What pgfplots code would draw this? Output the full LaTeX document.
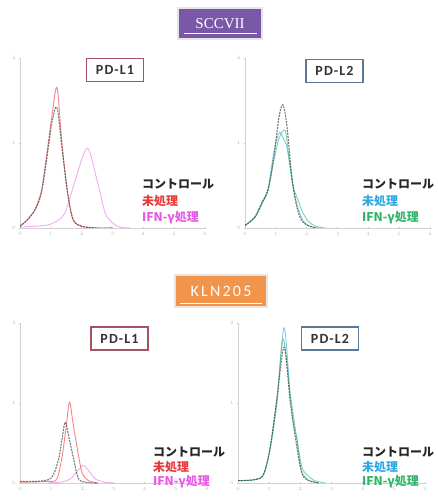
\documentclass[border=0pt]{standalone}
\usepackage{pgfplots}
\pgfplotsset{compat=1.18}
\usepackage{fontspec}
\setmainfont{Liberation Sans}
\newfontfamily\cjk{Noto Sans CJK JP}
\newfontfamily\calibri{Carlito}[LetterSpace=8]
\newfontfamily\calibriwide{Carlito}[LetterSpace=14]
\newfontfamily\serift{Liberation Serif}
\definecolor{cred}{HTML}{E83838}
\definecolor{cmag}{HTML}{E858E8}
\definecolor{ccyan}{HTML}{30A8E0}
\definecolor{cgreen}{HTML}{30B468}
\definecolor{cpurple}{HTML}{7A58A8}
\definecolor{corange}{HTML}{F2944A}
\definecolor{bred}{HTML}{A45260}
\definecolor{bblue}{HTML}{5A7898}
\pgfplotsset{
  flowaxis/.style={scale only axis, xmin=0, xmax=6, ymin=0, ymax=2,
    axis x line=bottom, axis y line=left,
    axis line style={-, draw=gray!35, line width=0.7pt},
    xtick={0,...,6}, ytick={0,1,2},
    major tick length=2pt, tick style={gray!45, line width=0.5pt},
    tick label style={font=\fontsize{3}{3}\selectfont, text=gray!55},
    anchor=origin},
  blk/.style={draw=black!75, dash pattern=on 2pt off 1pt, line width=1.1pt, opacity=0.7, smooth, tension=0.5, no marks},
  redc/.style={draw=cred, line width=0.9pt, opacity=0.6, smooth, tension=0.5, no marks},
  magc/.style={draw=cmag, line width=0.9pt, opacity=0.5, smooth, tension=0.5, no marks},
  cyac/.style={draw=ccyan, line width=0.9pt, opacity=0.6, smooth, tension=0.5, no marks},
  grnc/.style={draw=cgreen, line width=0.9pt, opacity=0.6, smooth, tension=0.5, no marks},
}
\tikzset{
  pdbox/.style={draw=#1, fill=white, line width=1.2pt, minimum width=57pt, minimum height=23pt, inner sep=0pt, font=\calibri\bfseries\fontsize{14}{14}\selectfont, text=black!80},
  lg/.style={anchor=base west, inner sep=0pt, font=\cjk\bfseries\fontsize{12}{12}\selectfont},
}
\begin{document}
\begin{tikzpicture}
\useasboundingbox (0pt,0pt) rectangle (437pt,-502pt);
\clip (0pt,0pt) rectangle (437pt,-502pt);
\fill[white] (0pt,0pt) rectangle (437pt,-502pt);

% ---------- SCCVII, PD-L1 ----------
\begin{axis}[flowaxis, width=185pt, height=170pt, at={(20pt,-228pt)}]
\addplot[redc] coordinates {(0,0.02) (0.25,0.1) (0.5,0.23) (0.7,0.45) (0.88,0.9) (1.04,1.33) (1.2,1.65) (1.36,1.0) (1.53,0.45) (1.72,0.1) (2.0,0.02) (2.5,0.0) (3,0)};
\addplot[magc] coordinates {(0,0.01) (0.8,0.03) (1.14,0.07) (1.46,0.18) (1.79,0.56) (2.18,0.94) (2.5,0.56) (2.76,0.18) (3.0,0.06) (3.25,0.01) (3.6,0)};
\addplot[blk] coordinates {(0,0.02) (0.25,0.1) (0.5,0.22) (0.7,0.42) (0.88,0.85) (1.04,1.25) (1.2,1.42) (1.36,0.95) (1.53,0.45) (1.72,0.1) (2.0,0.02) (2.5,0.0) (3,0)};
\end{axis}

% ---------- SCCVII, PD-L2 ----------
\begin{axis}[flowaxis, width=185pt, height=170pt, at={(245pt,-228pt)}]
\addplot[cyac] coordinates {(0,0.03) (0.32,0.13) (0.55,0.3) (0.75,0.47) (0.94,0.9) (1.08,1.1) (1.15,1.12) (1.25,1.05) (1.36,0.95) (1.49,0.65) (1.62,0.38) (1.75,0.2) (1.9,0.08) (2.1,0.02) (2.4,0)};
\addplot[grnc] coordinates {(0,0.03) (0.32,0.12) (0.55,0.28) (0.75,0.45) (0.94,0.8) (1.1,1.05) (1.3,1.15) (1.42,0.85) (1.55,0.5) (1.7,0.35) (1.85,0.2) (2.05,0.08) (2.3,0.02) (2.6,0)};
\addplot[blk] coordinates {(0,0.03) (0.32,0.13) (0.55,0.3) (0.75,0.45) (0.94,0.85) (1.1,1.3) (1.23,1.45) (1.36,1.2) (1.49,0.7) (1.62,0.35) (1.79,0.12) (1.98,0.04) (2.3,0.0)};
\end{axis}

% ---------- KLN205, PD-L1 ----------
\begin{axis}[flowaxis, width=187pt, height=160pt, at={(20pt,-483pt)}]
\addplot[redc] coordinates {(0,0.01) (0.9,0.02) (1.18,0.05) (1.35,0.33) (1.48,0.7) (1.59,1.01) (1.7,0.75) (1.83,0.45) (1.99,0.13) (2.2,0.03) (2.5,0)};
\addplot[magc] coordinates {(0.9,0.0) (1.3,0.01) (1.61,0.05) (1.85,0.15) (2.04,0.22) (2.25,0.13) (2.42,0.05) (2.7,0.01) (3,0)};
\addplot[blk] coordinates {(0,0.02) (0.5,0.02) (0.9,0.04) (1.07,0.1) (1.24,0.3) (1.35,0.55) (1.45,0.76) (1.58,0.55) (1.71,0.32) (1.87,0.06) (2.1,0.01) (2.5,0)};
\end{axis}

% ---------- KLN205, PD-L2 ----------
\begin{axis}[flowaxis, width=187pt, height=160pt, at={(238pt,-483pt)}]
\addplot[cyac] coordinates {(0,0.03) (0.5,0.04) (0.81,0.1) (1.03,0.44) (1.25,1.06) (1.48,1.94) (1.68,1.06) (1.8,0.7) (1.89,0.55) (1.97,0.3) (2.05,0.14) (2.25,0.04) (2.6,0)};
\addplot[grnc] coordinates {(0,0.03) (0.5,0.04) (0.81,0.1) (1.03,0.42) (1.25,1.0) (1.45,1.8) (1.68,1.1) (1.89,0.55) (2.05,0.2) (2.22,0.1) (2.45,0.03) (2.8,0)};
\addplot[blk] coordinates {(0,0.03) (0.5,0.04) (0.81,0.1) (1.03,0.44) (1.25,1.06) (1.48,1.7) (1.68,1.0) (1.89,0.45) (2.05,0.12) (2.25,0.03) (2.6,0)};
\end{axis}

% ---------- titles ----------
\node[fill=cpurple, draw=gray!20, line width=1.5pt, minimum width=84pt, minimum height=31pt, inner sep=0pt,
      text=white, font=\serift\fontsize{15}{15}\selectfont] at (220pt,-23.5pt) {SCCVII};
\draw[white, line width=0.8pt] (184pt,-33pt) -- (257pt,-33pt);
\node[fill=corange, draw=gray!20, line width=1.5pt, minimum width=92pt, minimum height=32pt, inner sep=0pt,
      text=white, font=\calibriwide\fontsize{16}{16}\selectfont] at (221pt,-291pt) {KLN205};
\draw[white, line width=0.8pt] (180pt,-303pt) -- (262pt,-303pt);

% ---------- panel labels ----------
\node[pdbox=bred] at (115pt,-70pt) {PD-L1};
\node[pdbox=bblue] at (334.5pt,-71pt) {PD-L2};
\node[pdbox=bred] at (119.5pt,-338.5pt) {PD-L1};
\node[pdbox=bblue] at (330pt,-338.5pt) {PD-L2};

% ---------- legends ----------
\node[lg, text=black!85] at (142pt,-189pt) {コントロール};
\node[lg, text=cred]     at (142pt,-206pt) {未処理};
\node[lg, text=cmag]     at (142pt,-222pt) {IFN-γ処理};
\node[lg, text=black!85] at (362pt,-189pt) {コントロール};
\node[lg, text=ccyan]    at (362pt,-206pt) {未処理};
\node[lg, text=cgreen]   at (362pt,-222pt) {IFN-γ処理};
\node[lg, text=black!85] at (153pt,-456pt) {コントロール};
\node[lg, text=cred]     at (153pt,-471pt) {未処理};
\node[lg, text=cmag]     at (153pt,-485pt) {IFN-γ処理};
\node[lg, text=black!85] at (362pt,-456pt) {コントロール};
\node[lg, text=ccyan]    at (362pt,-471pt) {未処理};
\node[lg, text=cgreen]   at (362pt,-485pt) {IFN-γ処理};
\end{tikzpicture}
\end{document}
